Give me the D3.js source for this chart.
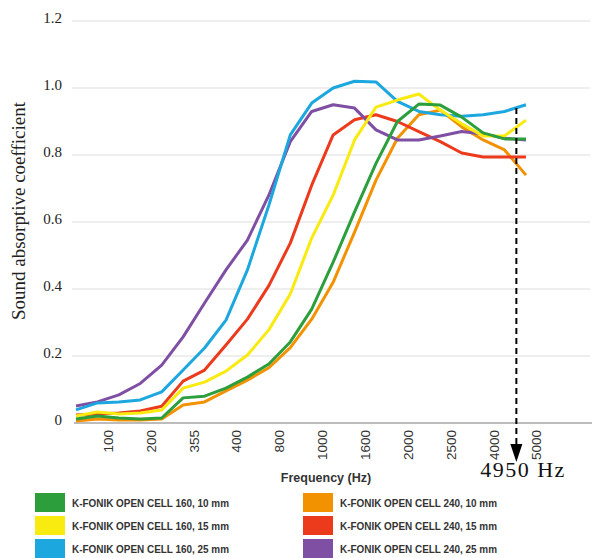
<!DOCTYPE html>
<html>
<head>
<meta charset="utf-8">
<script src="https://cdn.jsdelivr.net/npm/d3@7"></script>
<style>
	body { margin: 0; background: #fff; }
	svg { display: block; }
</style>
</head>
<body>
<svg id="chart" width="592" height="558"></svg>
<script>
'use strict'

// tick labels shown under the axis (every second measuring point)
var tickLabels = ['100', '200', '355', '400', '800', '1000', '1600', '2000', '2500', '4000', '5000'];
var yTicks = [0, 0.2, 0.4, 0.6, 0.8, 1.0, 1.2];

// absorption coefficients, 22 measuring points each
var green160_10 = [0.012, 0.021, 0.015, 0.012, 0.015, 0.075, 0.080, 0.104, 0.137, 0.176, 0.242, 0.340, 0.480, 0.630, 0.775, 0.900, 0.952, 0.949, 0.913, 0.866, 0.848, 0.848];
var yellow160_15 = [0.021, 0.033, 0.027, 0.030, 0.039, 0.104, 0.122, 0.155, 0.203, 0.278, 0.385, 0.552, 0.680, 0.845, 0.943, 0.964, 0.982, 0.934, 0.893, 0.857, 0.857, 0.904];
var blue160_25 = [0.039, 0.060, 0.063, 0.069, 0.093, 0.158, 0.224, 0.307, 0.457, 0.650, 0.860, 0.955, 1.000, 1.020, 1.018, 0.960, 0.930, 0.920, 0.916, 0.920, 0.930, 0.950];
var orange240_10 = [0.006, 0.012, 0.009, 0.009, 0.012, 0.054, 0.063, 0.096, 0.128, 0.165, 0.225, 0.310, 0.420, 0.570, 0.725, 0.850, 0.920, 0.934, 0.884, 0.845, 0.815, 0.740];
var red240_15 = [0.024, 0.027, 0.030, 0.036, 0.050, 0.125, 0.158, 0.233, 0.310, 0.410, 0.537, 0.710, 0.860, 0.905, 0.920, 0.900, 0.870, 0.840, 0.806, 0.794, 0.794, 0.794];
var purple240_25 = [0.051, 0.063, 0.084, 0.118, 0.173, 0.257, 0.358, 0.457, 0.546, 0.680, 0.840, 0.930, 0.950, 0.940, 0.875, 0.845, 0.845, 0.857, 0.870, 0.863, 0.850, 0.845];

var markerIndex = 20.55;
var markerText = '4950 Hz';

var series = [
	{ name: 'K-FONIK OPEN CELL 240, 10 mm', color: '#f39200', values: orange240_10 },
	{ name: 'K-FONIK OPEN CELL 240, 15 mm', color: '#ec3a1c', values: red240_15 },
	{ name: 'K-FONIK OPEN CELL 240, 25 mm', color: '#7f4fa3', values: purple240_25 },
	{ name: 'K-FONIK OPEN CELL 160, 25 mm', color: '#1da7df', values: blue160_25 },
	{ name: 'K-FONIK OPEN CELL 160, 15 mm', color: '#f9ea10', values: yellow160_15 },
	{ name: 'K-FONIK OPEN CELL 160, 10 mm', color: '#2c9f3c', values: green160_10 }
];
var legendOrder = [5, 4, 3, 0, 1, 2];

var svg = d3.select('#chart');

var xScale = d3.scaleLinear().domain([0, 21]).range([76, 526]);
var yScale = d3.scaleLinear().domain([0, 1.2]).range([423, 21]);

// grid
svg.append('g')
	.selectAll('line')
	.data(yTicks.filter(function(d){ return d > 0; }))
	.enter()
	.append('line')
	.attr('x1', 72).attr('x2', 590)
	.attr('y1', function(d){ return yScale(d); })
	.attr('y2', function(d){ return yScale(d); })
	.attr('stroke', '#e8e8e8')
	.attr('stroke-width', 1.5);

svg.append('line')
	.attr('x1', 74).attr('x2', 592)
	.attr('y1', yScale(0)).attr('y2', yScale(0))
	.attr('stroke', '#bcbcbc')
	.attr('stroke-width', 2);

// y tick labels
svg.append('g')
	.selectAll('text')
	.data(yTicks)
	.enter()
	.append('text')
	.attr('x', 62)
	.attr('y', function(d){ return yScale(d); })
	.attr('dy', '0.1em')
	.attr('text-anchor', 'end')
	.attr('font-family', 'Liberation Serif, serif')
	.attr('font-size', 15)
	.attr('fill', '#222')
	.text(function(d){ return d === 0 ? '0' : d.toFixed(1); });

// x tick labels
svg.append('g')
	.selectAll('text')
	.data(tickLabels)
	.enter()
	.append('text')
	.attr('transform', function(d, i){ return `translate(${xScale(1.5 + 2*i)}, 430) rotate(-90)`; })
	.attr('dy', '0.35em')
	.attr('text-anchor', 'end')
	.attr('font-family', 'Liberation Sans, Arial, sans-serif')
	.attr('font-size', 13.5)
	.attr('fill', '#333')
	.text(function(d){ return d; });

// axis titles
svg.append('text')
	.attr('transform', 'translate(25, 211) rotate(-90)')
	.attr('text-anchor', 'middle')
	.attr('font-family', 'Liberation Serif, serif')
	.attr('font-size', 19)
	.attr('fill', '#222')
	.text('Sound absorptive coefficient');

svg.append('text')
	.attr('x', 326)
	.attr('y', 482)
	.attr('text-anchor', 'middle')
	.attr('font-family', 'Liberation Sans, Arial, sans-serif')
	.attr('font-weight', 'bold')
	.attr('font-size', 12.5)
	.attr('fill', '#333')
	.text('Frequency (Hz)');

// lines
var line = d3.line()
	.x(function(d, i){ return xScale(i); })
	.y(function(d){ return yScale(d); });

svg.append('g')
	.selectAll('path')
	.data(series)
	.enter()
	.append('path')
	.attr('d', function(d){ return line(d.values); })
	.attr('fill', 'none')
	.attr('stroke', function(d){ return d.color; })
	.attr('stroke-width', 3)
	.attr('stroke-linejoin', 'round');

// 4950 Hz marker
var mx = xScale(markerIndex);
svg.append('line')
	.attr('x1', mx).attr('x2', mx)
	.attr('y1', 108).attr('y2', 446)
	.attr('stroke', '#000')
	.attr('stroke-width', 2)
	.attr('stroke-dasharray', '6,4');

svg.append('path')
	.attr('d', `M${mx - 6},444 L${mx + 6},444 L${mx},462 Z`)
	.attr('fill', '#000');

svg.append('text')
	.attr('x', 523)
	.attr('y', 477)
	.attr('text-anchor', 'middle')
	.attr('font-family', 'Liberation Serif, serif')
	.attr('font-size', 22)
	.attr('letter-spacing', 1.5)
	.attr('fill', '#111')
	.text(markerText);

// legend
var legend = svg.append('g')
	.selectAll('g')
	.data(legendOrder)
	.enter()
	.append('g')
	.attr('transform', function(d, i){
		return `translate(${i < 3 ? 35 : 303}, ${493 + (i % 3) * 23})`;
	});

legend.append('rect')
	.attr('width', 30)
	.attr('height', 19)
	.attr('fill', function(d){ return series[d].color; });

legend.append('text')
	.attr('x', 37)
	.attr('y', 10)
	.attr('dy', '0.35em')
	.attr('font-family', 'Liberation Sans Narrow, Arial Narrow, sans-serif')
	.attr('font-weight', 'bold')
	.attr('font-size', 11)
	.attr('fill', '#333')
	.attr('textLength', 157)
	.attr('lengthAdjust', 'spacingAndGlyphs')
	.text(function(d){ return series[d].name; });
</script>
</body>
</html>
